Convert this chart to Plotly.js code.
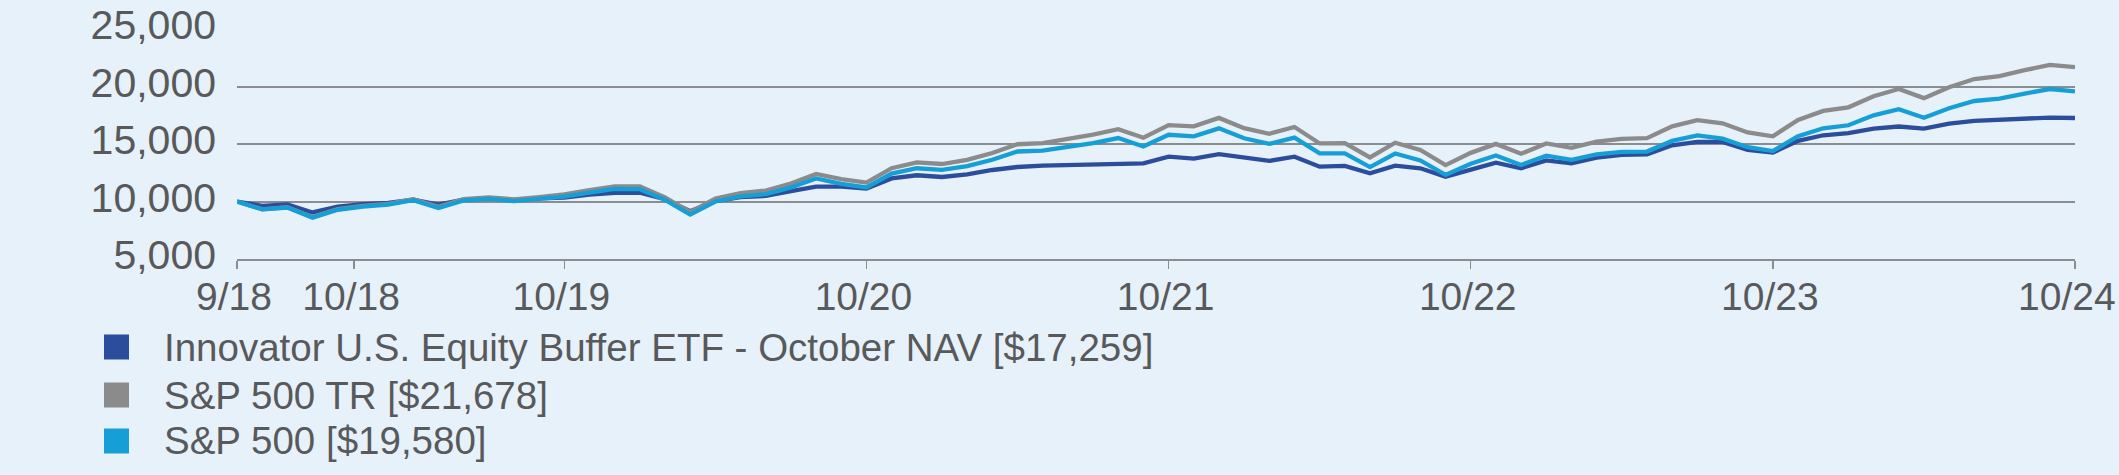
<!DOCTYPE html>
<html>
<head>
<meta charset="utf-8">
<script src="https://cdn.plot.ly/plotly-3.0.1.min.js"></script>
<style>
  html, body { margin: 0; padding: 0; background: #e7f1fa; }
  #chart { width: 2119px; height: 475px; }
</style>
</head>
<body>
<div id="chart"></div>
<script>
// Month index 0 = 9/18 ... 73 = 10/24 (monthly values of a $10,000 investment)
const months = Array.from({length: 74}, (_, i) => i);

const tickPositions = [0, 4.65, 13, 25, 37, 49, 61, 73];
const tickLabels = ["9/18", "10/18", "10/19", "10/20", "10/21", "10/22", "10/23", "10/24"];

const seriesNames = [
  "Innovator U.S. Equity Buffer ETF - October NAV [$17,259]",
  "S&P 500 TR [$21,678]",
  "S&P 500 [$19,580]"
];

const innovatorNAV = [
  10000, 9620, 9740, 9050, 9560, 9770, 9880, 10150, 9730, 10170,
  10270, 10150, 10270, 10330, 10600, 10760, 10760, 10200, 9150, 10040,
  10390, 10480, 10910, 11290, 11290, 11120, 12010, 12280, 12130, 12360,
  12740, 13000, 13120, 13180, 13240, 13290, 13320, 13900, 13730, 14110,
  13820, 13530, 13900, 13030, 13090, 12450, 13120, 12890, 12160, 12800,
  13380, 12890, 13580, 13320, 13820, 14050, 14110, 14890, 15180, 15180,
  14490, 14250, 15270, 15760, 15940, 16340, 16520, 16340, 16780, 17010,
  17100, 17240, 17300, 17259
];

const sp500TR = [
  10000, 9320, 9500, 8640, 9330, 9620, 9800, 10200, 9540, 10210,
  10360, 10190, 10380, 10610, 10980, 11310, 11310, 10360, 9080, 10250,
  10730, 10950, 11560, 12400, 11940, 11640, 12900, 13400, 13260, 13620,
  14220, 14980, 15080, 15440, 15810, 16290, 15540, 16640, 16530, 17270,
  16380, 15890, 16480, 15050, 15080, 13830, 15110, 14490, 13160, 14230,
  15010, 14150, 15050, 14670, 15210, 15450, 15510, 16540, 17080, 16800,
  16000, 15670, 17100, 17880, 18190, 19160, 19780, 18990, 19930, 20650,
  20910, 21420, 21880, 21678
];

const sp500 = [
  10000, 9310, 9470, 8600, 9280, 9560, 9730, 10110, 9440, 10100,
  10230, 10040, 10220, 10420, 10780, 11090, 11070, 10140, 8870, 10000,
  10450, 10640, 11230, 12010, 11540, 11220, 12430, 12890, 12750, 13080,
  13630, 14350, 14430, 14750, 15080, 15520, 14780, 15800, 15670, 16360,
  15500, 15010, 15550, 14180, 14180, 12990, 14170, 13570, 12310, 13290,
  14000, 13180, 13990, 13620, 14100, 14310, 14340, 15270, 15750, 15470,
  14720, 14390, 15680, 16370, 16630, 17490, 18030, 17280, 18110, 18740,
  18950, 19380, 19780, 19580
];

const colors = ["#2b4d9c", "#8b8b8b", "#169fd6"];
const textColor = "#58595b";
const bg = "#e7f1fa";
const fontFamily = "Liberation Sans, Arial, sans-serif";

const W = 2119, H = 475;
const M = {l: 237, r: 44, t: 29, b: 216};
const plotW = W - M.l - M.r, plotH = H - M.t - M.b;
const px2x = p => (p - M.l) / plotW;
const py2y = p => (H - M.b - p) / plotH;

const allSeries = [innovatorNAV, sp500TR, sp500];
const traces = allSeries.map((ys, k) => ({
  x: months,
  y: ys,
  type: "scatter",
  mode: "lines",
  name: seriesNames[k],
  line: {color: colors[k], width: 4.3},
  showlegend: false,
  hoverinfo: "skip",
  cliponaxis: false
}));

// custom legend: square swatches + text
const legendRowsCenter = [347, 395, 441];
const shapes = [];
const annotations = [];
seriesNames.forEach((nm, k) => {
  const cy = legendRowsCenter[k];
  shapes.push({
    type: "rect", xref: "paper", yref: "paper",
    x0: px2x(104), x1: px2x(129),
    y0: py2y(cy + 12.5), y1: py2y(cy - 12.5),
    fillcolor: colors[k], line: {width: 0}
  });
  annotations.push({
    xref: "paper", yref: "paper",
    x: px2x(162), y: py2y(cy),
    xanchor: "left", yanchor: "middle",
    text: nm, showarrow: false,
    font: {family: fontFamily, size: 38.5, color: textColor}
  });
});

// The last tick label sits against the page edge: it is written right-aligned
// (as in the reference) instead of centred on its tick, so it stays inside.
const lastLabel = tickLabels[tickLabels.length - 1];
const axisTickText = tickLabels.map((t, i) => i === tickLabels.length - 1 ? "" : t);
annotations.push({
  xref: "paper", yref: "paper",
  x: px2x(2118), y: py2y(296),
  xanchor: "right", yanchor: "middle",
  text: lastLabel, showarrow: false,
  font: {family: fontFamily, size: 39, color: textColor}
});

const layout = {
  width: W, height: H,
  margin: M,
  paper_bgcolor: bg,
  plot_bgcolor: bg,
  showlegend: false,
  font: {family: fontFamily, color: textColor},
  xaxis: {
    range: [0, 73],
    tickmode: "array",
    tickvals: tickPositions,
    ticktext: axisTickText,
    showgrid: false,
    zeroline: false,
    showline: true,
    linecolor: "#8a8c8f",
    linewidth: 2,
    ticks: "outside",
    ticklen: 8,
    tickwidth: 1.5,
    tickcolor: "#8a8c8f",
    ticklabelstandoff: -6,
    ticklabelshift: -3,
    tickfont: {size: 39, color: textColor},
    fixedrange: true
  },
  yaxis: {
    range: [5000, 25000],
    tickmode: "array",
    tickvals: [5000, 10000, 15000, 20000, 25000],
    ticktext: ["5,000", "10,000", "15,000", "20,000", "25,000"],
    showgrid: true,
    gridcolor: "#8a8c8f",
    gridwidth: 2,
    zeroline: false,
    showline: false,
    ticks: "",
    ticklabelstandoff: 20,
    ticklabelshift: -4,
    tickfont: {size: 41, color: textColor},
    fixedrange: true
  },
  shapes: shapes,
  annotations: annotations
};

Plotly.newPlot("chart", traces, layout, {displayModeBar: false, staticPlot: true});
</script>
</body>
</html>
